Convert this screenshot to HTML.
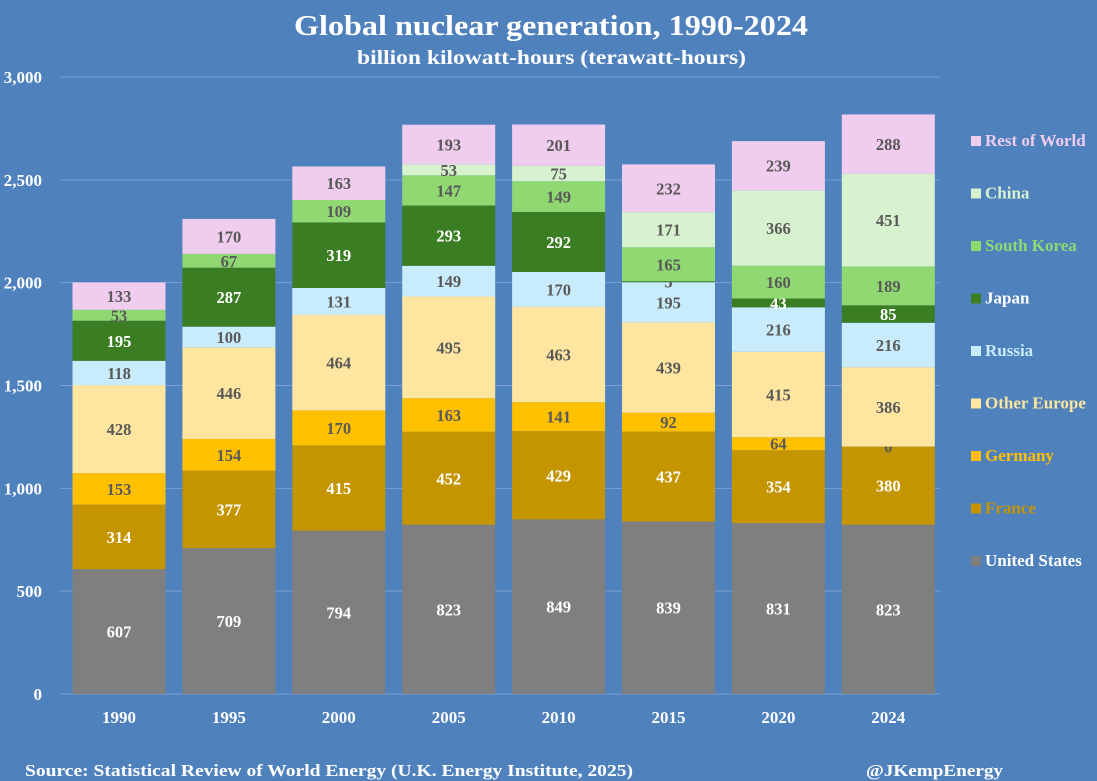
<!DOCTYPE html>
<html><head><meta charset="utf-8"><style>
body{margin:0;background:#4f81bd;}
svg{display:block;font-family:"Liberation Serif",serif;font-weight:bold;}
</style></head><body>
<svg id="c" width="1097" height="781">
<rect width="1097" height="781" fill="#4f81bd"/>
<text x="294" y="35" textLength="514" lengthAdjust="spacingAndGlyphs" font-size="29" fill="#fff">Global nuclear generation, 1990-2024</text>
<text x="357" y="64" textLength="389" lengthAdjust="spacingAndGlyphs" font-size="20" fill="#fff">billion kilowatt-hours (terawatt-hours)</text>
<text x="25" y="776" textLength="608" lengthAdjust="spacingAndGlyphs" font-size="17" fill="#fff">Source: Statistical Review of World Energy (U.K. Energy Institute, 2025)</text>
<text x="866" y="776" textLength="137" lengthAdjust="spacingAndGlyphs" font-size="17" fill="#fff">@JKempEnergy</text>
<g id="grid"></g><g id="bars"></g><g id="legend"></g>
</svg>
<script>
const years=["1990","1995","2000","2005","2010","2015","2020","2024"];
const seriesNames=["United States","France","Germany","Other Europe","Russia","Japan","South Korea","China","Rest of World"];
const us=[607,709,794,823,849,839,831,823];
const france=[314,377,415,452,429,437,354,380];
const germany=[153,154,170,163,141,92,64,0];
const otherEurope=[428,446,464,495,463,439,415,386];
const russia=[118,100,131,149,170,195,216,216];
const japan=[195,287,319,293,292,5,43,85];
const southKorea=[53,67,109,147,149,165,160,189];
const china=[0,0,0,53,75,171,366,451];
const rest=[133,170,163,193,201,232,239,288];
const yTicks=[0,500,1000,1500,2000,2500,3000];
const series=[us,france,germany,otherEurope,russia,japan,southKorea,china,rest];
const colors=["#7f7f7f","#c59500","#ffc000","#ffe6a0","#c9ecfc","#3a7d22","#8fd872","#d8f2cf","#f0cdee"];
const labelColors=["#fff","#fff","#595959","#595959","#595959","#fff","#595959","#595959","#595959"];
const legendText=["#fff","#c59500","#ffc000","#ffe6a0","#c9ecfc","#fff","#8fd872","#d8f2cf","#f0cdee"];
const NS="http://www.w3.org/2000/svg";
const y0=694,y1=77,vmax=3000,x0=60,x1=940;
const Y=v=>y0-(v/vmax)*(y0-y1);
const X=i=>119+i*109.9;
const bw=93;
function mk(t,a,p){const e=document.createElementNS(NS,t);for(const k in a)e.setAttribute(k,a[k]);p.appendChild(e);return e;}
const grid=document.getElementById('grid');
yTicks.forEach(v=>{
 const l=mk('line',{x1:x0,x2:x1,y1:Y(v),y2:Y(v),stroke:"#7c9fd0","stroke-width":1},grid);
 
 
 const t=mk('text',{x:42,y:Y(v)+6,"text-anchor":"end","font-size":17,fill:"#fff"},grid);
 t.textContent=v.toLocaleString('en-US');
 
 
});
const bars=document.getElementById('bars');
years.forEach((yr,i)=>{
 let acc=0;
 series.forEach((s,k)=>{
  const v=s[i];
  const top=Y(acc+v),bot=Y(acc);
  if(v>0){
   const r=mk('rect',{x:X(i)-bw/2,y:top,width:bw,height:bot-top,fill:colors[k]},bars);
   
   
  }
  if(!(k===7&&v===0)){
   const col=(k===5&&v<20)?"#595959":labelColors[k];
   const t=mk('text',{x:X(i),y:(top+bot)/2+6,"text-anchor":"middle","font-size":16.5,fill:col},bars);
   t.textContent=v;
   
   
  }
  acc+=v;
 });
 const t=mk('text',{x:X(i),y:723,"text-anchor":"middle","font-size":17,fill:"#fff"},bars);
 t.textContent=yr;
 
 
});
const lg=document.getElementById('legend');
for(let k=8;k>=0;k--){
 const yy=141+(8-k)*52.5;
 const r=mk('rect',{x:971,y:yy-5,width:10,height:10,fill:colors[k]},lg);
 
 
 const t=mk('text',{x:985,y:yy+5,"font-size":17,fill:legendText[k]},lg);
 t.textContent=seriesNames[k];
 
 
}
</script>
</body></html>
